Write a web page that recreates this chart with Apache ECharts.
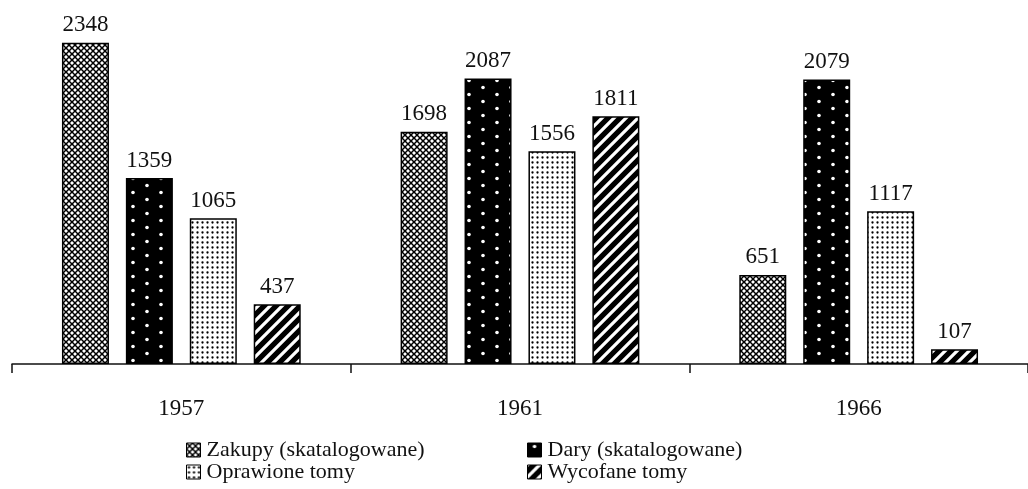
<!DOCTYPE html>
<html><head><meta charset="utf-8">
<script src="https://cdn.jsdelivr.net/npm/echarts@6/dist/echarts.min.js"></script>
<style>html,body{margin:0;padding:0;background:#fff}#c{width:1028px;height:489px}</style>
</head><body><div id="c"></div>
<script>
const categories = ['1957', '1961', '1966'];
const zakupy = [2348, 1698, 651];
const dary = [1359, 2087, 2079];
const oprawione = [1065, 1556, 1117];
const wycofane = [437, 1811, 107];
const seriesNames = ['Zakupy (skatalogowane)', 'Dary (skatalogowane)', 'Oprawione tomy', 'Wycofane tomy'];

function tile(w, h, draw) {
  const c = document.createElement('canvas'); c.width = w; c.height = h;
  const g = c.getContext('2d'); draw(g, w, h); return c;
}
const pCross = tile(6, 6, (g, w, h) => {
  g.fillStyle = '#fff'; g.fillRect(0, 0, w, h);
  g.strokeStyle = '#000'; g.lineWidth = 1.5;
  g.beginPath();
  g.moveTo(0, 0); g.lineTo(w, h);
  g.moveTo(w, 0); g.lineTo(0, h);
  g.stroke();
  g.fillStyle = '#000'; g.fillRect(2, 2, 2, 2);
});
const pBlackDots = tile(28, 14, (g, w, h) => {
  g.fillStyle = '#000'; g.fillRect(0, 0, w, h);
  g.fillStyle = '#fff';
  g.beginPath(); g.arc(7, 3.5, 1.8, 0, Math.PI * 2); g.fill();
  g.beginPath(); g.arc(21, 10.5, 1.8, 0, Math.PI * 2); g.fill();
});
const pWhiteDots = tile(5, 5, (g, w, h) => {
  g.fillStyle = '#fff'; g.fillRect(0, 0, w, h);
  g.fillStyle = '#000'; g.beginPath(); g.arc(2.5, 2.5, 1.15, 0, Math.PI * 2); g.fill();
});
const pStripes = tile(12, 12, (g, w, h) => {
  g.fillStyle = '#000'; g.fillRect(0, 0, w, h);
  g.strokeStyle = '#fff'; g.lineWidth = 3.2;
  g.beginPath();
  g.moveTo(-3, 15); g.lineTo(15, -3);
  g.moveTo(-3, 3); g.lineTo(3, -3);
  g.moveTo(9, 15); g.lineTo(15, 9);
  g.stroke();
});
const patterns = [pCross, pBlackDots, pWhiteDots, pStripes];
const values = [zakupy, dary, oprawione, wycofane];
const font = '"Liberation Serif", "Times New Roman", serif';

const legendPos = [[186, 439], [527, 439], [186, 461], [527, 461]];
const chart = echarts.init(document.getElementById('c'));
chart.setOption({
  animation: false,
  backgroundColor: '#fff',
  textStyle: { fontFamily: font, color: '#111' },
  grid: { left: 12, top: 22, width: 1023, height: 342, containLabel: false },
  xAxis: {
    type: 'category', data: categories,
    axisLine: { show: true, lineStyle: { color: '#111', width: 1.5 } },
    axisTick: { show: true, alignWithLabel: false, length: 9, lineStyle: { color: '#111', width: 1.5 } },
    axisLabel: { margin: 33, fontSize: 23, fontFamily: font, color: '#111' }
  },
  yAxis: { type: 'value', min: 0, max: 2500, show: false, splitLine: { show: false } },
  legend: seriesNames.map((n, i) => ({
    data: [n], left: legendPos[i][0], top: legendPos[i][1],
    icon: 'rect', itemWidth: 14, itemHeight: 14, itemGap: 0, padding: 0,
    itemStyle: { borderColor: '#000', borderWidth: 1 },
    textStyle: { fontFamily: font, fontSize: 22, color: '#111', padding: [0, 0, 0, 1] }
  })),
  series: values.map((v, i) => ({
    name: seriesNames[i], type: 'bar', data: v,
    barWidth: 47, barGap: '36%',
    itemStyle: { color: { image: patterns[i], repeat: 'repeat' }, borderColor: '#000', borderWidth: 1.5 },
    label: { show: true, position: 'top', distance: 6, fontSize: 23, fontFamily: font, color: '#111' }
  }))
});
</script></body></html>
